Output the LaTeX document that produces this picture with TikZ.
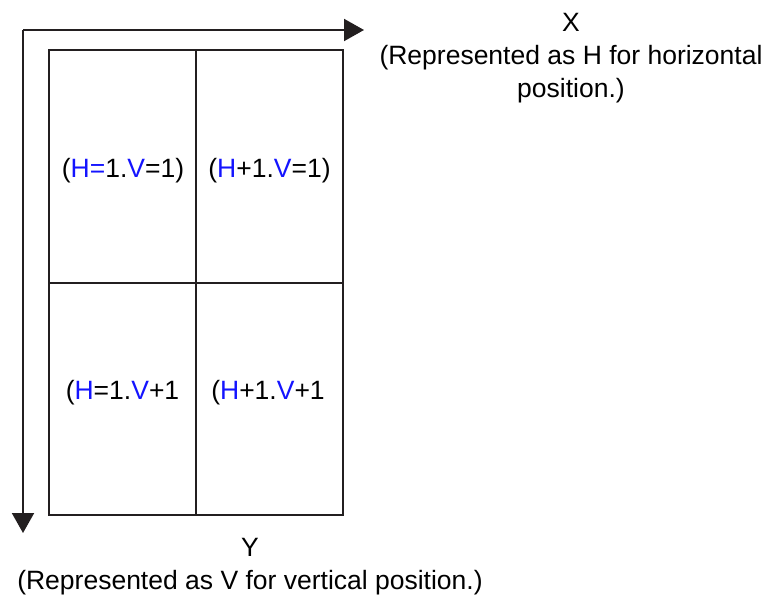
\documentclass[tikz,border=0pt]{standalone}
\usepackage{fontspec}
\setmainfont{Liberation Sans}
\usetikzlibrary{arrows.meta}
\definecolor{lblue}{RGB}{20,20,255}
\definecolor{ink}{RGB}{35,31,32}
\begin{document}
\begin{tikzpicture}[x=1pt,y=-1pt,
  cell/.style={draw=ink, line width=2pt, minimum width=147pt, minimum height=232.5pt, inner sep=0pt},
  celltext/.style={inner sep=0pt, font=\fontsize{26.5}{30}\selectfont},
  axis/.style={line width=2pt, draw=ink, -{Triangle[length=20pt,width=22pt]}},
  lab/.style={align=center, font=\fontsize{26.5}{33}\selectfont}]
\useasboundingbox (0,0) rectangle (762,596);
\newcommand{\bl}[1]{\textcolor{lblue}{#1}}
\node[cell] (c11) at (122.5,166.5) {};
\node[cell] (c21) at (269.5,166.5) {};
\node[cell] (c12) at (122.5,399) {};
\node[cell] (c22) at (269.5,399) {};
\node[celltext] (t11) at (123,171) {(\bl{H=}1.\bl{V}=1)};
\node[celltext] (t21) at (269.5,171) {(\bl{H}+1.\bl{V}=1)};
\node[celltext] (t12) at (122.5,393) {(\bl{H}=1.\bl{V}+1};
\node[celltext] (t22) at (268,393) {(\bl{H}+1.\bl{V}+1};
\coordinate (o) at (23,30);
\coordinate (xe) at (364,30);
\coordinate (ye) at (23,533);
\draw[axis] (o) -- (xe);
\draw[axis] (o) -- (ye);
\node[lab] (xl) at (571,58) {X\\(Represented as H for horizontal\\position.)};
\node[lab] (yl) at (250,567) {Y\\(Represented as V for vertical position.)};
\end{tikzpicture}
\end{document}
